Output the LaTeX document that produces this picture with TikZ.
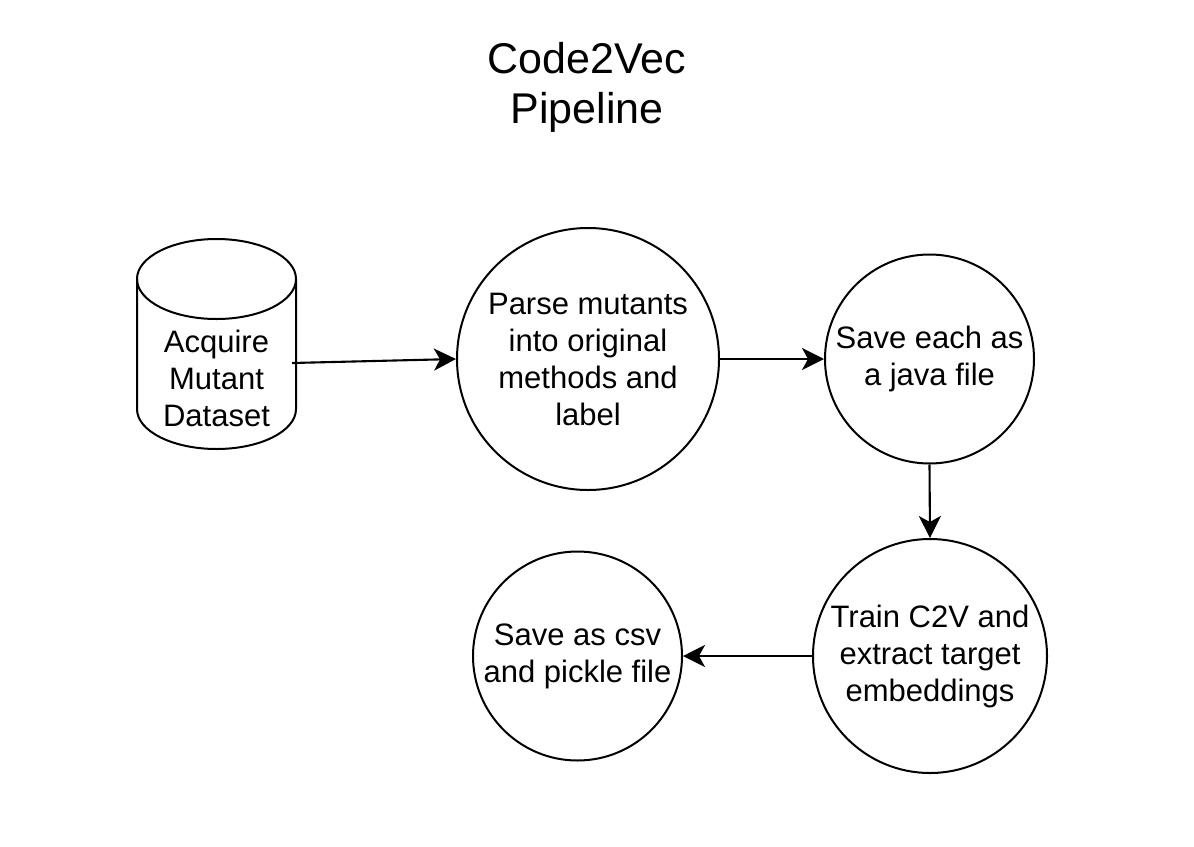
\documentclass[tikz,border=0pt]{standalone}
\usepackage{fontspec}
\setmainfont{Liberation Sans}
\usetikzlibrary{arrows.meta}
\begin{document}
\begin{tikzpicture}[x=1pt,y=-1pt,
  proc/.style={circle,draw,line width=2pt,inner sep=0pt,align=center,font=\fontsize{31}{37}\selectfont},
  lbl/.style={align=center,inner sep=0pt,font=\fontsize{31}{37}\selectfont},
  conn/.style={line width=2.1pt,-{Stealth[length=22pt,width=22pt,inset=6pt]}},
  shapeline/.style={line width=2pt}
]
\useasboundingbox (0,0) rectangle (1194,846);
\fill[white] (0,0) rectangle (1194,846);

% title
\node[align=center,font=\fontsize{43}{50}\selectfont] (title) at (587,87) {Code2Vec\\Pipeline};

% cylinder
\draw[shapeline] (216.5,279) ellipse [x radius=79.5, y radius=40];
\draw[shapeline] (137,279) -- (137,409) arc[start angle=180, end angle=0, x radius=79.5, y radius=40] -- (296,279);
\node[lbl] (cyl) at (216.5,378) {Acquire\\Mutant\\Dataset};
\coordinate (cylout) at (292,363);

% process circles
\node[proc,minimum size=262pt] (c1) at (588,359) {Parse mutants\\into original\\methods and\\label};
\node[proc,minimum size=209pt] (c2) at (929.5,359) {Save each as\\a java file};
\node[proc,minimum size=234pt] (c3) at (930,656) {Train C2V and\\extract target\\embeddings};
\node[proc,minimum size=209pt] (c4) at (577.5,656) {Save as csv\\and pickle file};

% connectors
\draw[conn] (cylout) -- (c1.west);
\draw[conn] (c1.east) -- (c2.west);
\draw[conn] (c2.south) -- (c3.north);
\draw[conn] (c3.west) -- (c4.east);
\end{tikzpicture}
\end{document}
